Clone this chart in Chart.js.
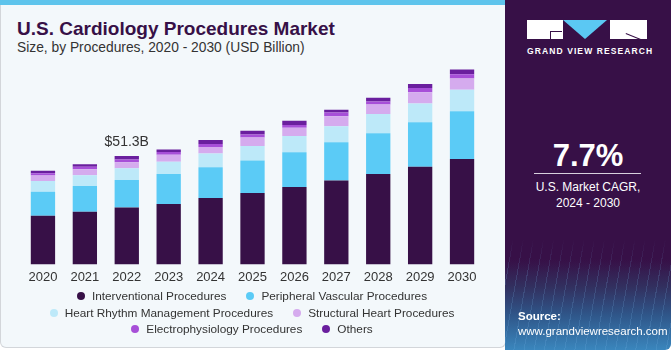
<!DOCTYPE html>
<html>
<head>
<meta charset="utf-8">
<script src="https://cdn.jsdelivr.net/npm/chart.js@4"></script>
<style>
  html, body { margin: 0; padding: 0; background: #ffffff; }
  body { width: 671px; height: 350px; position: relative; overflow: hidden; font-family: "Liberation Sans", Arial, sans-serif; }
  #left {
    position: absolute; left: 0; top: 0; width: 506px; height: 348px;
    background: #f3f8fb; border: 1px solid #d3d6da; border-top: 0; border-radius: 0 0 6px 6px;
    box-sizing: border-box;
  }
  #strip { position: absolute; left: 0; top: 0; width: 508px; height: 5px; background: #5ec4ec; }
  #title { position: absolute; left: 17px; top: 18px; font-size: 19px; font-weight: bold; color: #371047; white-space: nowrap; }
  #sub { position: absolute; left: 17px; top: 40px; font-size: 13.8px; color: #333333; white-space: nowrap; }
  #wrap { position: absolute; left: 0; top: 0; width: 500px; height: 290px; }
  #legend { position: absolute; left: 2px; width: 500px; top: 288px; font-size: 11.8px; color: #333333; }
  #legend .row { display: flex; justify-content: center; height: 16.5px; line-height: 16.5px; }
  #legend .item { display: flex; align-items: center; margin: 0 10px; white-space: nowrap; }
  #legend .dot { width: 8px; height: 8px; border-radius: 50%; margin-right: 7px; }
  #right {
    position: absolute; left: 505px; top: 0; width: 166px; height: 350px;
    border-radius: 0 6px 6px 0;
    background:
      repeating-linear-gradient(100deg, rgba(120,180,230,0) 0 9px, rgba(120,180,230,0.18) 9px 10px),
      linear-gradient(180deg, #371047 0%, #371047 74%, #32305f 82%, #2f5689 90%, #3a86bd 100%);
  }
  #right .cover { position: absolute; left: 0; top: 0; width: 166px; height: 272px; background: linear-gradient(180deg, #371047 88%, rgba(55,16,71,0) 100%); }
  .blk { position: absolute; background: #ffffff; }
  #tri { position: absolute; left: 58px; top: 20px; width: 0; height: 0;
    border-left: 22px solid transparent; border-right: 22px solid transparent; border-top: 19px solid #5bc8f3; }
  #gvr { position: absolute; left: 22px; top: 46px; font-size: 8.5px; font-weight: bold; letter-spacing: 1.1px; color: #ffffff; white-space: nowrap; }
  #cagr { position: absolute; left: 0; width: 166px; top: 138px; text-align: center; font-size: 31px; font-weight: bold; color: #ffffff; }
  #rule { position: absolute; left: 29px; top: 173px; width: 107px; height: 1px; background: #d8d0de; }
  #cagrtxt { position: absolute; left: 0; width: 166px; top: 179px; text-align: center; font-size: 12px; line-height: 16px; color: #ffffff; }
  #src { position: absolute; left: 13px; top: 309px; font-size: 11.5px; line-height: 15px; color: #ffffff; white-space: nowrap; }
</style>
</head>
<body>
<div id="left">
</div>
<div id="strip"></div>
<div id="title">U.S. Cardiology Procedures Market</div>
<div id="sub">Size, by Procedures, 2020 - 2030 (USD Billion)</div>
<div id="wrap"><canvas id="chart" width="500" height="290"></canvas></div>
<div id="legend"></div>
<div id="right">
  <div class="cover"></div>
  <div class="blk" style="left:22px;top:20px;width:36px;height:19px;"></div>
  <div style="position:absolute;left:45px;top:31px;width:12px;height:1px;background:#371047;"></div>
  <div style="position:absolute;left:45px;top:31px;width:1px;height:8px;background:#371047;"></div>
  <div id="tri"></div>
  <div class="blk" style="left:105px;top:20px;width:37px;height:19px;"></div>
  <div style="position:absolute;left:121px;top:33px;width:22px;height:1px;background:#371047;transform:rotate(22deg);transform-origin:0 0;"></div>
  <div id="gvr">GRAND VIEW RESEARCH</div>
  <div id="cagr">7.7%</div>
  <div id="rule"></div>
  <div id="cagrtxt">U.S. Market CAGR,<br>2024 - 2030</div>
  <div id="src"><b>Source:</b><br>www.grandviewresearch.com</div>
</div>
<script>
  // values, USD billion
  const years = ["2020", "2021", "2022", "2023", "2024", "2025", "2026", "2027", "2028", "2029", "2030"];
  const interventional = [23.0, 24.9, 26.9, 28.6, 31.4, 33.8, 36.6, 39.7, 42.8, 46.2, 49.9];
  const peripheral = [11.4, 12.2, 13.0, 14.2, 14.6, 15.4, 16.5, 18.1, 19.2, 21.1, 22.5];
  const heartRhythm = [5.1, 5.1, 5.6, 5.7, 6.5, 6.8, 7.6, 7.5, 9.1, 8.8, 10.2];
  const structural = [2.5, 2.8, 2.8, 3.4, 3.0, 4.0, 3.9, 4.8, 4.5, 5.3, 5.3];
  const electro = [1.1, 1.2, 1.3, 1.3, 1.5, 1.5, 1.3, 1.7, 1.5, 2.0, 2.1];
  const others = [1.2, 1.2, 1.7, 1.2, 1.9, 1.7, 2.0, 1.4, 1.7, 1.9, 2.2];
  const seriesNames = ["Interventional Procedures", "Peripheral Vascular Procedures",
    "Heart Rhythm Management Procedures", "Structural Heart Procedures",
    "Electrophysiology Procedures", "Others"];
  const seriesColors = ["#371047", "#5bcbf6", "#bde9f9", "#d5abee", "#a74fd8", "#6a1f9e"];
  const labelYear = "2022";
  const labelText = "$51.3B";

  const seriesData = [interventional, peripheral, heartRhythm, structural, electro, others];

  // legend: two entries per row, like the original
  const legendEl = document.getElementById("legend");
  for (let r = 0; r < seriesNames.length; r += 2) {
    const row = document.createElement("div");
    row.className = "row";
    [r, r + 1].forEach(k => {
      const item = document.createElement("div");
      item.className = "item";
      item.innerHTML = `<span class="dot" style="background:${seriesColors[k]}"></span>${seriesNames[k]}`;
      row.appendChild(item);
    });
    legendEl.appendChild(row);
  }

  const totalLabel = {
    id: "totalLabel",
    afterDatasetsDraw(chart) {
      const i = years.indexOf(labelYear);
      const total = seriesData.reduce((s, arr) => s + arr[i], 0);
      const x = chart.scales.x.getPixelForValue(i);
      const y = chart.scales.y.getPixelForValue(total);
      const ctx = chart.ctx;
      ctx.save();
      ctx.font = '14px "Liberation Sans", Arial, sans-serif';
      ctx.fillStyle = "#333333";
      ctx.textAlign = "center";
      ctx.textBaseline = "bottom";
      ctx.fillText(labelText, x, y - 7);
      ctx.restore();
    }
  };

  new Chart(document.getElementById("chart"), {
    type: "bar",
    data: {
      labels: years,
      datasets: seriesData.map((d, k) => ({
        label: seriesNames[k],
        data: d,
        backgroundColor: seriesColors[k],
        borderWidth: 0,
        categoryPercentage: 1,
        barPercentage: 0.58,
      })),
    },
    options: {
      responsive: false,
      animation: false,
      layout: { padding: { left: 22, right: 17, top: 53, bottom: 0 } },
      scales: {
        x: {
          stacked: true,
          grid: { display: false, drawTicks: false },
          border: { display: false },
          ticks: { color: "#333333", padding: 5, font: { size: 13, family: '"Liberation Sans", Arial, sans-serif' } },
        },
        y: { stacked: true, display: false, min: 0, max: 100 },
      },
      plugins: {
        tooltip: { enabled: false },
        legend: { display: false },
      },
    },
    plugins: [totalLabel],
  });
</script>
</body>
</html>
